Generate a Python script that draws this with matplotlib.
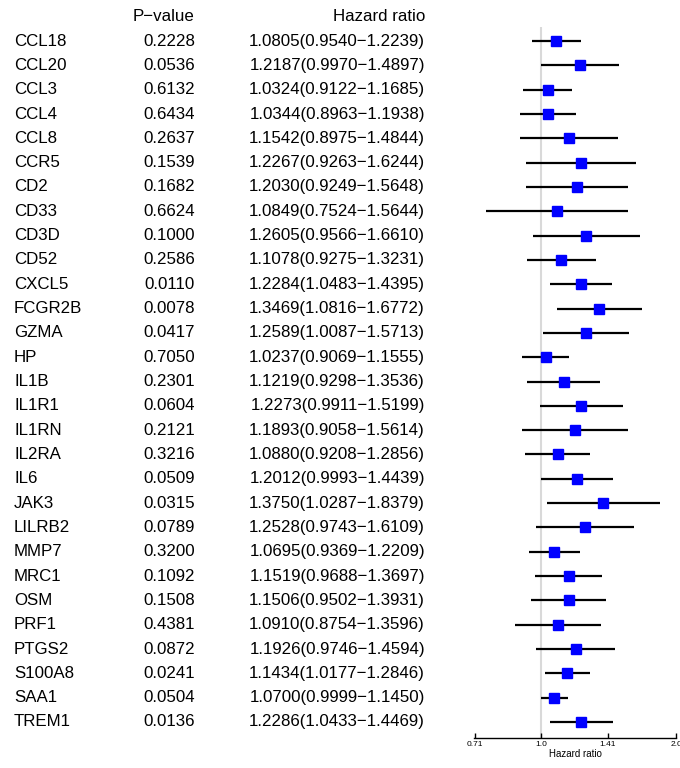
import numpy as np
import matplotlib.pyplot as plt
from matplotlib.transforms import blended_transform_factory

plt.rcParams['font.family'] = ['Liberation Sans', 'DejaVu Sans']

genes = ['CCL18', 'CCL20', 'CCL3', 'CCL4', 'CCL8', 'CCR5', 'CD2', 'CD33', 'CD3D',
         'CD52', 'CXCL5', 'FCGR2B', 'GZMA', 'HP', 'IL1B', 'IL1R1', 'IL1RN', 'IL2RA',
         'IL6', 'JAK3', 'LILRB2', 'MMP7', 'MRC1', 'OSM', 'PRF1', 'PTGS2', 'S100A8',
         'SAA1', 'TREM1']
pvals = [0.2228, 0.0536, 0.6132, 0.6434, 0.2637, 0.1539, 0.1682, 0.6624, 0.1000,
         0.2586, 0.0110, 0.0078, 0.0417, 0.7050, 0.2301, 0.0604, 0.2121, 0.3216,
         0.0509, 0.0315, 0.0789, 0.3200, 0.1092, 0.1508, 0.4381, 0.0872, 0.0241,
         0.0504, 0.0136]
hr = [1.0805, 1.2187, 1.0324, 1.0344, 1.1542, 1.2267, 1.2030, 1.0849, 1.2605,
      1.1078, 1.2284, 1.3469, 1.2589, 1.0237, 1.1219, 1.2273, 1.1893, 1.0880,
      1.2012, 1.3750, 1.2528, 1.0695, 1.1519, 1.1506, 1.0910, 1.1926, 1.1434,
      1.0700, 1.2286]
hr_low = [0.9540, 0.9970, 0.9122, 0.8963, 0.8975, 0.9263, 0.9249, 0.7524, 0.9566,
          0.9275, 1.0483, 1.0816, 1.0087, 0.9069, 0.9298, 0.9911, 0.9058, 0.9208,
          0.9993, 1.0287, 0.9743, 0.9369, 0.9688, 0.9502, 0.8754, 0.9746, 1.0177,
          0.9999, 1.0433]
hr_high = [1.2239, 1.4897, 1.1685, 1.1938, 1.4844, 1.6244, 1.5648, 1.5644, 1.6610,
           1.3231, 1.4395, 1.6772, 1.5713, 1.1555, 1.3536, 1.5199, 1.5614, 1.2856,
           1.4439, 1.8379, 1.6109, 1.2209, 1.3697, 1.3931, 1.3596, 1.4594, 1.2846,
           1.1450, 1.4469]
xticks = [0.71, 1.0, 1.41, 2.0]
xtick_labels = ['0.71', '1.0', '1.41', '2.0']

fig = plt.figure(figsize=(6.8, 7.68), dpi=100)
ax = fig.add_axes([474/680, 1 - 738/768, 202/680, 711/768])

n = len(genes)
ypos = np.arange(n)

ax.axvline(1.0, color='#d9d9d9', lw=1.5, zorder=0)
ax.hlines(ypos, hr_low, hr_high, color='black', lw=1.6, zorder=2)
ax.plot(hr, ypos, 's', color='blue', markersize=6.5, zorder=3)

ax.set_xscale('log', base=2)
ax.set_xlim(2 ** -0.5, 2.0)
ax.set_ylim(28.66, -0.58)
ax.set_xticks(xticks)
ax.set_xticklabels(xtick_labels)
ax.minorticks_off()
ax.tick_params(axis='x', labelsize=6, length=3.5, width=1, pad=2.5, direction='in')
ax.set_yticks([])
for s in ['left', 'top', 'right']:
    ax.spines[s].set_visible(False)
ax.spines['bottom'].set_linewidth(1)
ax.set_xlabel('Hazard ratio', fontsize=7, labelpad=0.5)

# table text
tr = blended_transform_factory(fig.transFigure, ax.transData)
fs = 12.2
for i in range(n):
    fig.text(14/680, ypos[i], genes[i], transform=tr, fontsize=fs, va='center', ha='left')
    fig.text(195/680, ypos[i], f'{pvals[i]:.4f}', transform=tr, fontsize=fs,
             va='center', ha='right')
    fig.text(425/680, ypos[i], f'{hr[i]:.4f}({hr_low[i]:.4f}\u2212{hr_high[i]:.4f})',
             transform=tr, fontsize=fs, va='center', ha='right')
fig.text(195/680, -1.03, 'P\u2212value', transform=tr, fontsize=fs, va='center', ha='right')
fig.text(425/680, -1.03, 'Hazard ratio', transform=tr, fontsize=fs, va='center', ha='right')

fig.savefig('out.png', dpi=100)
